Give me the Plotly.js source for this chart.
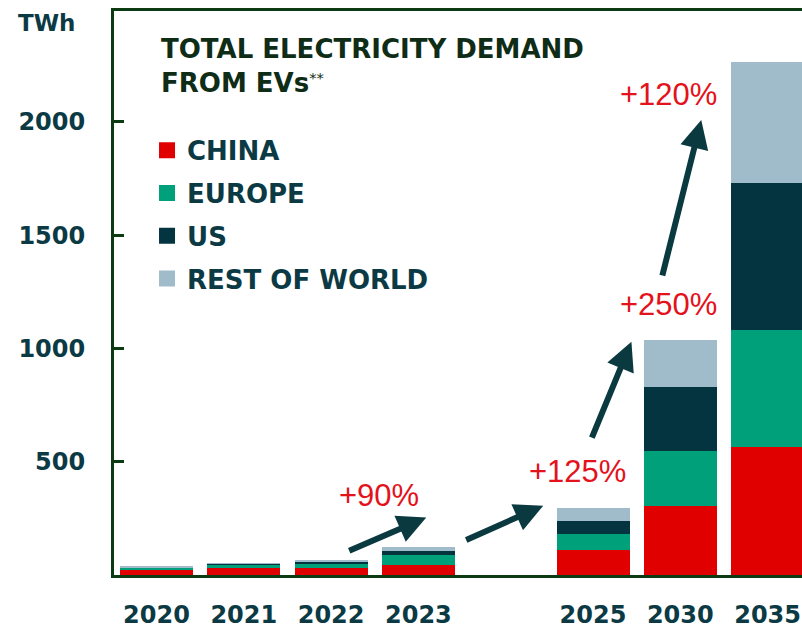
<!DOCTYPE html>
<html>
<head>
<meta charset="utf-8">
<script src="https://cdn.plot.ly/plotly-3.0.1.min.js"></script>
<style>html,body{margin:0;padding:0;background:#fff;}#chart{width:802px;height:630px;}</style>
</head>
<body>
<div id="chart"></div>
<script>
// ---- data ----
const years = ['2020', '2021', '2022', '2023', '2025', '2030', '2035'];
const slots = [0, 1, 2, 3, 5, 6, 7];          // 2024 slot left empty as in the original
const china  = [20, 32, 33, 46, 112, 303, 565];
const europe = [12, 13, 18, 41, 69, 243, 517];
const us     = [2, 4, 7, 18, 56, 282, 647];
const rest   = [4, 4, 6, 18, 59, 210, 534];
const seriesNames = ['CHINA', 'EUROPE', 'US', 'REST OF WORLD'];
const growthLabels = ['+90%', '+125%', '+250%', '+120%'];
const yTicks = [500, 1000, 1500, 2000];

// ---- styles ----
const colors = ['#E00000', '#00A07A', '#04343F', '#A0BCCA'];
const axisColor = '#0C3A12';
const tickTextColor = '#0B3A44';
const redText = '#E3121B';
const arrowColor = '#0A3A40';
const boldFont = 'DejaVu Sans';

const seriesValues = [china, europe, us, rest];
const traces = seriesValues.map((vals, i) => ({
  type: 'bar',
  name: seriesNames[i],
  x: slots,
  y: vals,
  width: 0.836,
  marker: {color: colors[i], line: {width: 0}},
  showlegend: false,
  hoverinfo: 'x+y+name'
}));
// legend keys (square swatches, same names and colours as the stacked series)
seriesNames.forEach((n, i) => traces.push({
  type: 'scatter', mode: 'markers', name: n,
  x: [null], y: [null],
  marker: {symbol: 'square', size: 16, color: colors[i]},
  legendgroup: 'g' + i, showlegend: true, hoverinfo: 'skip'
}));

// arrows between growth stages (head -> tail in data units)
const arrows = [
  {x: 3.09, y: 254, ax: 2.19, ay: 104},
  {x: 4.43, y: 306, ax: 3.53, ay: 152},
  {x: 5.44, y: 1030, ax: 4.98, ay: 600},
  {x: 6.24, y: 2009, ax: 5.79, ay: 1316}
];
const labelPos = [
  {x: 2.55, y: 351},
  {x: 4.82, y: 456},
  {x: 5.86, y: 1193},
  {x: 5.87, y: 2123}
];

const annotations = [];
arrows.forEach(a => annotations.push({
  xref: 'x', yref: 'y', axref: 'x', ayref: 'y',
  x: a.x, y: a.y, ax: a.ax, ay: a.ay,
  text: '', showarrow: true,
  arrowhead: 2, arrowsize: 0.95, arrowwidth: 6, arrowcolor: arrowColor,
  standoff: 0, startstandoff: 0
}));
growthLabels.forEach((t, i) => annotations.push({
  xref: 'x', yref: 'y', x: labelPos[i].x, y: labelPos[i].y,
  text: t, showarrow: false, xanchor: 'center', yanchor: 'middle',
  font: {family: 'Liberation Sans, Arial, sans-serif', size: 31, color: redText}
}));
annotations.push({
  xref: 'paper', yref: 'paper', x: -0.0974, y: 0.9787,
  text: 'TWh', showarrow: false, xanchor: 'center', yanchor: 'middle',
  font: {family: boldFont, size: 23, color: tickTextColor, weight: 'bold'}
});
annotations.push({
  xref: 'paper', yref: 'paper', x: 0.066, y: 0.9025,
  text: 'TOTAL ELECTRICITY DEMAND<br>FROM EVs<span style="font-size:21px;font-weight:normal"><sup>**</sup></span>',
  showarrow: false, xanchor: 'left', yanchor: 'middle', align: 'left',
  font: {family: boldFont, size: 26, color: '#0E2C16', weight: 'bold'}
});

const layout = {
  width: 802, height: 630,
  margin: {l: 114, r: 0, t: 11, b: 55},
  paper_bgcolor: '#fff', plot_bgcolor: '#fff',
  barmode: 'stack',
  bargap: 0,
  showlegend: true,
  legend: {
    x: 0.048, y: 0.7947, xanchor: 'left', yanchor: 'top',
    traceorder: 'grouped', tracegroupgap: 6, itemsizing: 'trace',
    bgcolor: 'rgba(0,0,0,0)', borderwidth: 0,
    font: {family: boldFont, size: 26, color: tickTextColor, weight: 'bold'},
    itemclick: false, itemdoubleclick: false
  },
  xaxis: {
    range: [-0.487, 7.394],
    tickmode: 'array', tickvals: slots, ticktext: years,
    showline: true, mirror: true, linecolor: axisColor, linewidth: 3,
    ticks: '', showgrid: false, zeroline: false,
    ticklabelstandoff: 16,
    tickfont: {family: boldFont, size: 24, color: tickTextColor, weight: 'bold'},
    fixedrange: true
  },
  yaxis: {
    range: [0, 2490],
    tickmode: 'array', tickvals: yTicks,
    showline: true, mirror: false, linecolor: axisColor, linewidth: 3,
    ticks: 'inside', ticklen: 10, tickwidth: 3, tickcolor: axisColor,
    showgrid: false, zeroline: false,
    ticklabelstandoff: 21,
    tickfont: {family: boldFont, size: 24, color: tickTextColor, weight: 'bold'},
    fixedrange: true
  },
  annotations: annotations
};

Plotly.newPlot('chart', traces, layout, {displayModeBar: false});
</script>
</body>
</html>
